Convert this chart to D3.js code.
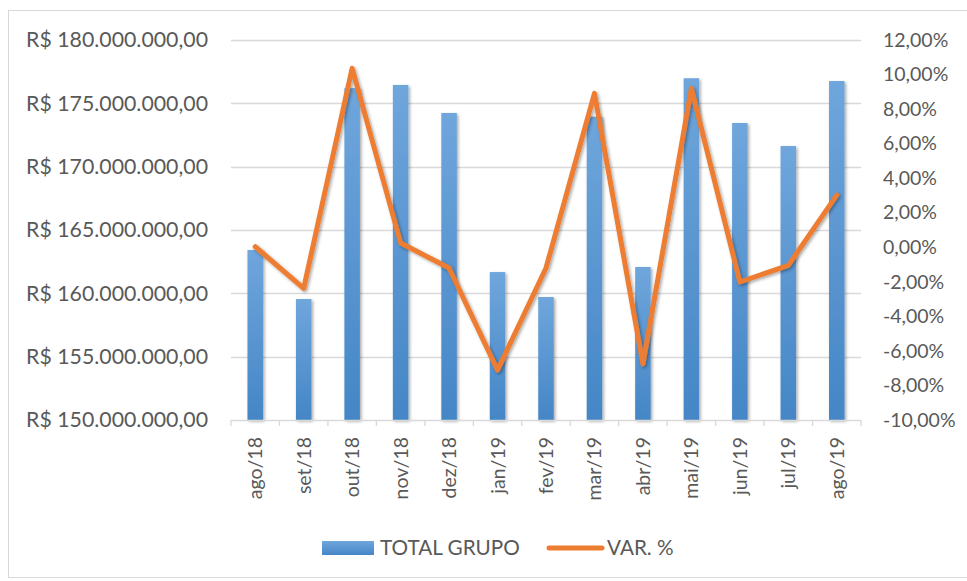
<!DOCTYPE html>
<html><head><meta charset="utf-8">
<script src="https://cdn.jsdelivr.net/npm/d3@7/dist/d3.min.js"></script>
<style>
body{margin:0;background:#fff;}
text{font-family:Lato,"Open Sans",sans-serif;fill:#595959;}
</style></head>
<body><svg id="c" width="967" height="581"></svg>
<script>
const categories = ["ago/18","set/18","out/18","nov/18","dez/18","jan/19","fev/19","mar/19","abr/19","mai/19","jun/19","jul/19","ago/19"];
const totalGrupo = [163420000,159550000,176200000,176450000,174240000,161680000,159710000,173950000,162080000,176980000,173450000,171630000,176760000];
const varPct = [0.03,-2.38,10.36,0.25,-1.2,-7.11,-1.2,8.91,-6.76,9.2,-2.01,-1.05,3.02];
const leftTicks = [150e6,155e6,160e6,165e6,170e6,175e6,180e6];
const rightTicks = [-10,-8,-6,-4,-2,0,2,4,6,8,10,12];
const seriesNames = ["TOTAL GRUPO","VAR. %"];

const svg = d3.select("#c");
const W=967,H=581;
const m = {l:231, r:861, t:40, b:420};

const defs = svg.append("defs");
const g = defs.append("linearGradient").attr("id","bg").attr("x1",0).attr("y1",0).attr("x2",0).attr("y2",1);
g.append("stop").attr("offset","0%").attr("stop-color","#6fa6dc");
g.append("stop").attr("offset","100%").attr("stop-color","#4586c6");
const f = defs.append("filter").attr("id","sh").attr("x","-50%").attr("y","-10%").attr("width","200%").attr("height","130%");
f.append("feDropShadow").attr("dx",1.5).attr("dy",1.5).attr("stdDeviation",1.8).attr("flood-color","#000").attr("flood-opacity",0.35);

// chart border
svg.append("rect").attr("x",8.5).attr("y",10.5).attr("width",W).attr("height",567).attr("fill","none").attr("stroke","#d9d9d9");

const x = d3.scaleBand().domain(categories).range([m.l,m.r]);
const yL = d3.scaleLinear().domain([150e6,180e6]).range([m.b,m.t]);
const yR = d3.scaleLinear().domain([-10,12]).range([m.b,m.t]);

const fmtL = v => "R$ " + d3.format(",.2f")(v).replace(/,/g,"#").replace(/\./g,",").replace(/#/g,".");
const fmtR = v => d3.format(".2f")(v).replace(".",",").replace("−","-") + "%";

// gridlines
svg.append("g").selectAll("line").data(leftTicks.slice(1)).join("line")
  .attr("x1",m.l).attr("x2",m.r).attr("y1",d=>Math.round(yL(d))+0.5).attr("y2",d=>Math.round(yL(d))+0.5)
  .attr("stroke","#d9d9d9").attr("stroke-width",1.3);

// left axis
const la = svg.append("g").attr("transform",`translate(${m.l-23},0)`)
  .call(d3.axisLeft(yL).tickValues(leftTicks).tickFormat(fmtL).tickSize(0).tickPadding(0));
la.select(".domain").remove();
la.selectAll("text").style("font-size","21.3px").attr("fill","#595959");

// right axis
const ra = svg.append("g").attr("transform",`translate(${m.r+22},0)`)
  .call(d3.axisRight(yR).tickValues(rightTicks).tickFormat(fmtR).tickSize(0).tickPadding(0));
ra.select(".domain").remove();
ra.selectAll("text").style("font-size","19.5px").attr("fill","#595959");

// bars
const bw = x.bandwidth()*0.32;
svg.append("g").attr("filter","url(#sh)").selectAll("rect").data(categories).join("rect")
  .attr("x",(d,i)=>x(d)+x.bandwidth()/2-bw/2).attr("width",bw)
  .attr("y",(d,i)=>yL(totalGrupo[i])).attr("height",(d,i)=>yL(150e6)-yL(totalGrupo[i]))
  .attr("fill","url(#bg)");

// x axis
const xa = svg.append("g").attr("transform",`translate(0,${m.b})`);
xa.append("line").attr("x1",m.l).attr("x2",m.r).attr("y1",0.5).attr("y2",0.5).attr("stroke","#d9d9d9").attr("stroke-width",1.3);
xa.selectAll("line.tk").data(d3.range(categories.length+1)).join("line").attr("class","tk")
  .attr("x1",i=>m.l+i*x.step()).attr("x2",i=>m.l+i*x.step()).attr("y1",0).attr("y2",6)
  .attr("stroke","#d9d9d9").attr("stroke-width",1.3);
xa.selectAll("text").data(categories).join("text")
  .attr("transform",d=>`translate(${x(d)+x.bandwidth()/2+7},${17}) rotate(-90)`)
  .attr("text-anchor","end").style("font-size","19.5px").text(d=>d);

// line
const line = d3.line().x((d,i)=>x(categories[i])+x.bandwidth()/2).y(d=>yR(d));
svg.append("path").datum(varPct).attr("d",line).attr("fill","none")
  .attr("stroke","#ed7d31").attr("stroke-width",5).attr("stroke-linejoin","round").attr("stroke-linecap","round")
  .attr("filter","url(#sh)");

// legend
const lg = svg.append("g");
lg.append("rect").attr("x",322).attr("y",541).attr("width",52).attr("height",14).attr("fill","url(#bg)");
lg.append("text").attr("x",380).attr("y",555).style("font-size","20.7px").text(seriesNames[0]);
lg.append("line").attr("x1",549).attr("x2",602).attr("y1",548).attr("y2",548).attr("stroke","#ed7d31").attr("stroke-width",5).attr("stroke-linecap","round");
lg.append("text").attr("x",607).attr("y",555).style("font-size","20.7px").text(seriesNames[1]);
</script></body></html>
